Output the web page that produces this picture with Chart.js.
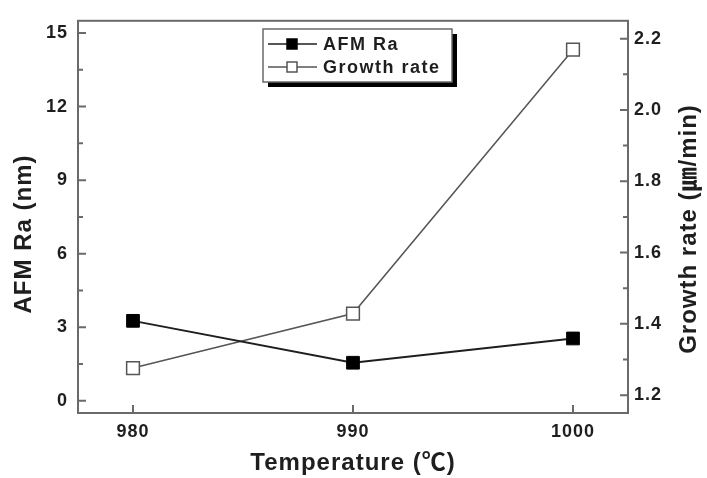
<!DOCTYPE html>
<html>
<head>
<meta charset="utf-8">
<script src="https://cdn.jsdelivr.net/npm/chart.js@4.4.1/dist/chart.umd.min.js"></script>
<style>
  html, body { margin: 0; padding: 0; background: #fff; }
  #wrap { width: 707px; height: 478px; position: relative; }
</style>
</head>
<body>
<div id="wrap"><canvas id="grafico"></canvas></div>
<script>
// datos
const temperaturas = [980, 990, 1000];
const afmRa = [3.26, 1.55, 2.54];
const growthRate = [1.276, 1.429, 2.169];

const ticksX = [980, 990, 1000];
const ticksRa = [0, 3, 6, 9, 12, 15];
const menoresRa = [1.5, 4.5, 7.5, 10.5, 13.5];
const ticksGrowth = [1.2, 1.4, 1.6, 1.8, 2.0, 2.2];
const menoresGrowth = [1.3, 1.5, 1.7, 1.9, 2.1];

const tituloX = 'Temperature (\u2103)';
const tituloY = 'AFM Ra (nm)';
const tituloY2 = 'Growth rate (\u339B/min)';

const colorEje = '#6a6a6a';
const colorTexto = '#1e1e1e';

const fuenteTicks = { family: 'Liberation Sans', size: 18, weight: 'bold' };

// ticks hacia adentro, marco y titulos
const ejesPlugin = {
  id: 'ejes',
  beforeDraw(chart) {
    chart.ctx.letterSpacing = '1px';
  },
  afterDraw(chart) {
    const ctx = chart.ctx;
    const a = chart.chartArea;
    const sx = chart.scales.x, sy = chart.scales.y, sy2 = chart.scales.y2;
    ctx.save();
    ctx.strokeStyle = colorEje;
    ctx.lineWidth = 2;
    ctx.strokeRect(a.left, a.top, a.right - a.left, a.bottom - a.top);

    ctx.beginPath();
    ticksX.forEach(v => {
      const px = sx.getPixelForValue(v);
      ctx.moveTo(px, a.bottom); ctx.lineTo(px, a.bottom - 8);
    });
    ticksRa.forEach(v => {
      const py = sy.getPixelForValue(v);
      ctx.moveTo(a.left, py); ctx.lineTo(a.left + 8, py);
    });
    menoresRa.forEach(v => {
      const py = sy.getPixelForValue(v);
      ctx.moveTo(a.left, py); ctx.lineTo(a.left + 5, py);
    });
    ticksGrowth.forEach(v => {
      const py = sy2.getPixelForValue(v);
      ctx.moveTo(a.right, py); ctx.lineTo(a.right - 8, py);
    });
    menoresGrowth.forEach(v => {
      const py = sy2.getPixelForValue(v);
      ctx.moveTo(a.right, py); ctx.lineTo(a.right - 5, py);
    });
    ctx.stroke();

    // titulos de ejes
    ctx.fillStyle = colorTexto;
    ctx.textAlign = 'center';
    ctx.textBaseline = 'middle';
    ctx.font = 'bold 24px "Liberation Sans", "Noto Sans CJK KR"';
    ctx.letterSpacing = '1px';
    ctx.fillText(tituloX, (a.left + a.right) / 2, 463);

    ctx.save();
    ctx.translate(24, 234);
    ctx.rotate(-Math.PI / 2);
    ctx.fillText(tituloY, 0, 0);
    ctx.restore();

    ctx.save();
    ctx.translate(689, 229);
    ctx.rotate(-Math.PI / 2);
    ctx.fillText(tituloY2, 0, 0);
    ctx.restore();

    // leyenda con sombra
    const lx = 263, ly = 29, lw = 189, lh = 53;
    ctx.fillStyle = '#000';
    ctx.fillRect(lx + 5, ly + 5, lw, lh);
    ctx.fillStyle = '#fff';
    ctx.fillRect(lx, ly, lw, lh);
    ctx.strokeStyle = colorEje;
    ctx.lineWidth = 1.5;
    ctx.strokeRect(lx, ly, lw, lh);

    ctx.font = 'bold 18px "Liberation Sans"';
    ctx.letterSpacing = '1.5px';
    ctx.textAlign = 'left';
    chart.data.datasets.forEach((ds, i) => {
      const cy = 44 + i * 23;
      ctx.strokeStyle = ds.borderColor;
      ctx.lineWidth = 1.5;
      ctx.beginPath();
      ctx.moveTo(268, cy); ctx.lineTo(317, cy);
      ctx.stroke();
      ctx.fillStyle = ds.pointBackgroundColor;
      ctx.fillRect(287, cy - 5, 10, 10);
      ctx.strokeStyle = ds.pointBorderColor;
      ctx.strokeRect(287, cy - 5, 10, 10);
      ctx.fillStyle = colorTexto;
      ctx.fillText(ds.label, 323, cy + 1);
    });
    ctx.restore();
  }
};

new Chart(document.getElementById('grafico'), {
  type: 'line',
  data: {
    datasets: [
      {
        label: 'AFM Ra',
        data: temperaturas.map((t, i) => ({ x: t, y: afmRa[i] })),
        yAxisID: 'y',
        borderColor: '#1e1e1e',
        borderWidth: 1.8,
        pointStyle: 'rect',
        pointRadius: 9,
        pointBackgroundColor: '#000',
        pointBorderColor: '#000',
        pointBorderWidth: 1
      },
      {
        label: 'Growth rate',
        data: temperaturas.map((t, i) => ({ x: t, y: growthRate[i] })),
        yAxisID: 'y2',
        borderColor: '#555',
        borderWidth: 1.5,
        pointStyle: 'rect',
        pointRadius: 9,
        pointBackgroundColor: '#fff',
        pointBorderColor: '#555',
        pointBorderWidth: 1.5
      }
    ]
  },
  options: {
    responsive: true,
    maintainAspectRatio: false,
    animation: false,
    layout: { padding: { top: 20, left: 0, right: 0, bottom: 0 } },
    plugins: { legend: { display: false }, tooltip: { enabled: false } },
    scales: {
      x: {
        type: 'linear',
        min: 977.5, max: 1002.5,
        afterBuildTicks: s => { s.ticks = ticksX.map(v => ({ value: v })); },
        afterFit: s => { s.height = 65; },
        grid: { display: false, drawTicks: false },
        border: { display: false },
        ticks: { color: colorTexto, font: fuenteTicks, padding: 8, maxRotation: 0, callback: v => String(v) }
      },
      y: {
        position: 'left',
        min: -0.5, max: 15.5,
        afterBuildTicks: s => { s.ticks = ticksRa.map(v => ({ value: v })); },
        afterFit: s => { s.width = 78; },
        grid: { display: false, drawTicks: false },
        border: { display: false },
        ticks: { color: colorTexto, font: fuenteTicks, padding: 10, callback: v => String(v) }
      },
      y2: {
        position: 'right',
        min: 1.15, max: 2.25,
        afterBuildTicks: s => { s.ticks = ticksGrowth.map(v => ({ value: v })); },
        afterFit: s => { s.width = 79; },
        grid: { display: false, drawTicks: false },
        border: { display: false },
        ticks: { color: colorTexto, font: fuenteTicks, padding: 6, callback: v => v.toFixed(1) }
      }
    }
  },
  plugins: [ejesPlugin]
});
</script>
</body>
</html>
